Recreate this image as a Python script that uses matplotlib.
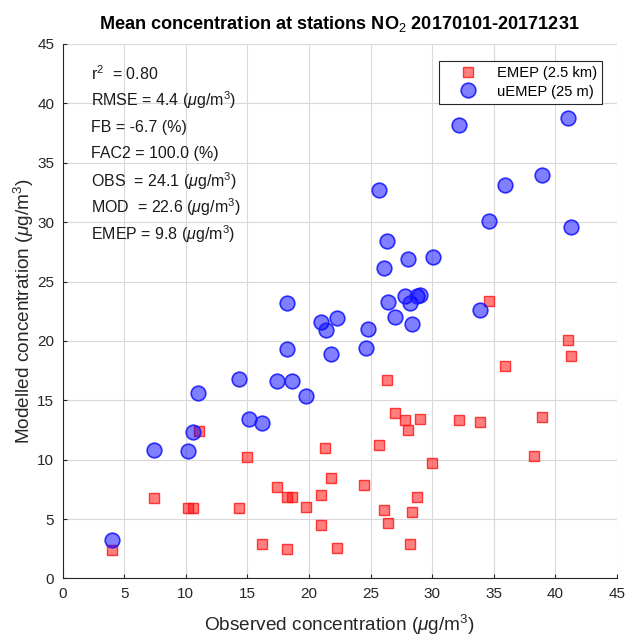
import numpy as np
import matplotlib
matplotlib.use('Agg')
import matplotlib.pyplot as plt

plt.rcParams['font.family'] = ['Liberation Sans', 'DejaVu Sans']
plt.rcParams['mathtext.fontset'] = 'custom'
plt.rcParams['mathtext.rm'] = 'Liberation Sans'
plt.rcParams['mathtext.it'] = 'Liberation Sans:italic'

# observed vs modelled (EMEP 2.5 km)
emepObs = [4.0, 7.4, 10.2, 10.6, 11.1, 14.3, 15.0, 16.2, 17.4, 18.2, 18.6, 18.2, 19.8,
           21.0, 21.0, 21.3, 21.8, 22.3, 24.5, 25.7, 26.1, 26.3, 26.4, 27.0, 27.8, 28.0,
           29.0, 28.8, 28.4, 28.2, 30.0, 32.2, 33.9, 34.6, 35.9, 38.3, 38.9, 41.0, 41.3]
emepMod = [2.4, 6.8, 5.9, 5.9, 12.4, 5.9, 10.2, 2.9, 7.7, 6.9, 6.9, 2.5, 6.0,
           7.0, 4.5, 11.0, 8.5, 2.6, 7.9, 11.2, 5.8, 16.7, 4.7, 13.9, 13.3, 12.5,
           13.4, 6.9, 5.6, 2.9, 9.7, 13.3, 13.2, 23.4, 17.9, 10.3, 13.6, 20.1, 18.7]

# observed vs modelled (uEMEP 25 m)
uemepObs = [4.0, 7.4, 10.2, 10.6, 11.0, 14.3, 15.1, 16.2, 17.4, 18.6, 19.8, 18.2, 18.2,
            21.0, 21.4, 22.3, 21.8, 24.6, 24.8, 27.0, 28.4, 33.9, 32.2, 41.0, 38.9, 35.9,
            25.7, 34.6, 41.3, 26.3, 30.1, 28.0, 26.1, 26.4, 27.8, 28.2, 28.8, 29.0]
uemepMod = [3.2, 10.8, 10.7, 12.3, 15.6, 16.8, 13.4, 13.1, 16.6, 16.6, 15.4, 19.3, 23.2,
            21.6, 20.9, 21.9, 18.9, 19.4, 21.0, 22.0, 21.4, 22.6, 38.2, 38.8, 34.0, 33.1,
            32.7, 30.1, 29.6, 28.4, 27.1, 26.9, 26.1, 23.3, 23.8, 23.2, 23.8, 23.9]

statLines = [r'r$^2$  = 0.80',
             r'RMSE = 4.4 ($\mu$g/m$^3$)',
             'FB = -6.7 (%)',
             'FAC2 = 100.0 (%)',
             r'OBS  = 24.1 ($\mu$g/m$^3$)',
             r'MOD  = 22.6 ($\mu$g/m$^3$)',
             r'EMEP = 9.8 ($\mu$g/m$^3$)']

fig = plt.figure(figsize=(6.27, 6.38), dpi=100)
ax = fig.add_axes([0.0997, 0.0933, 0.8843, 0.8378])

ax.plot(emepObs, emepMod, 's', markersize=7.5, markerfacecolor=(1, 0, 0, 0.5),
        markeredgecolor=(1, 0.1, 0.1, 0.85), markeredgewidth=1.0, label='EMEP (2.5 km)')
ax.plot(uemepObs, uemepMod, 'o', markersize=10.5, markerfacecolor=(0, 0, 1, 0.5),
        markeredgecolor=(0.1, 0.1, 1, 0.9), markeredgewidth=1.2, label='uEMEP (25 m)')

ax.set_xlim(0, 45)
ax.set_ylim(0, 45)
ax.set_xticks(np.arange(0, 46, 5))
ax.set_yticks(np.arange(0, 46, 5))
ax.grid(True, color='#d9d9d9', linewidth=0.8)
ax.set_axisbelow(True)
for side in ['top', 'right']:
    ax.spines[side].set_visible(False)
for side in ['left', 'bottom']:
    ax.spines[side].set_color('#262626')
ax.tick_params(direction='in', length=3, labelsize=11, colors='#262626', pad=6)

ax.set_xlabel(r'Observed concentration ($\mu$g/m$^3$)', fontsize=13.7, color='#262626', labelpad=9)
ax.set_ylabel(r'Modelled concentration ($\mu$g/m$^3$)', fontsize=13.7, color='#262626', labelpad=1)
ax.set_title(r'Mean concentration at stations NO$_2$ 20170101-20171231', fontsize=13.1,
             fontweight='bold', pad=11)

for i, line in enumerate(statLines):
    ax.text(0.051, 0.945 - i * 0.0502, line, transform=ax.transAxes, fontsize=11.5,
            va='center', ha='left', color='#1a1a1a')

leg = ax.legend(loc='upper right', bbox_to_anchor=(0.973, 0.968), borderaxespad=0,
                fontsize=10.6, handlelength=3.3, handletextpad=0.3, borderpad=0.35,
                labelspacing=0.3, fancybox=False, framealpha=1)
leg.get_frame().set_edgecolor('#262626')
leg.get_frame().set_linewidth(0.8)

fig.savefig('out.png', dpi=100)
